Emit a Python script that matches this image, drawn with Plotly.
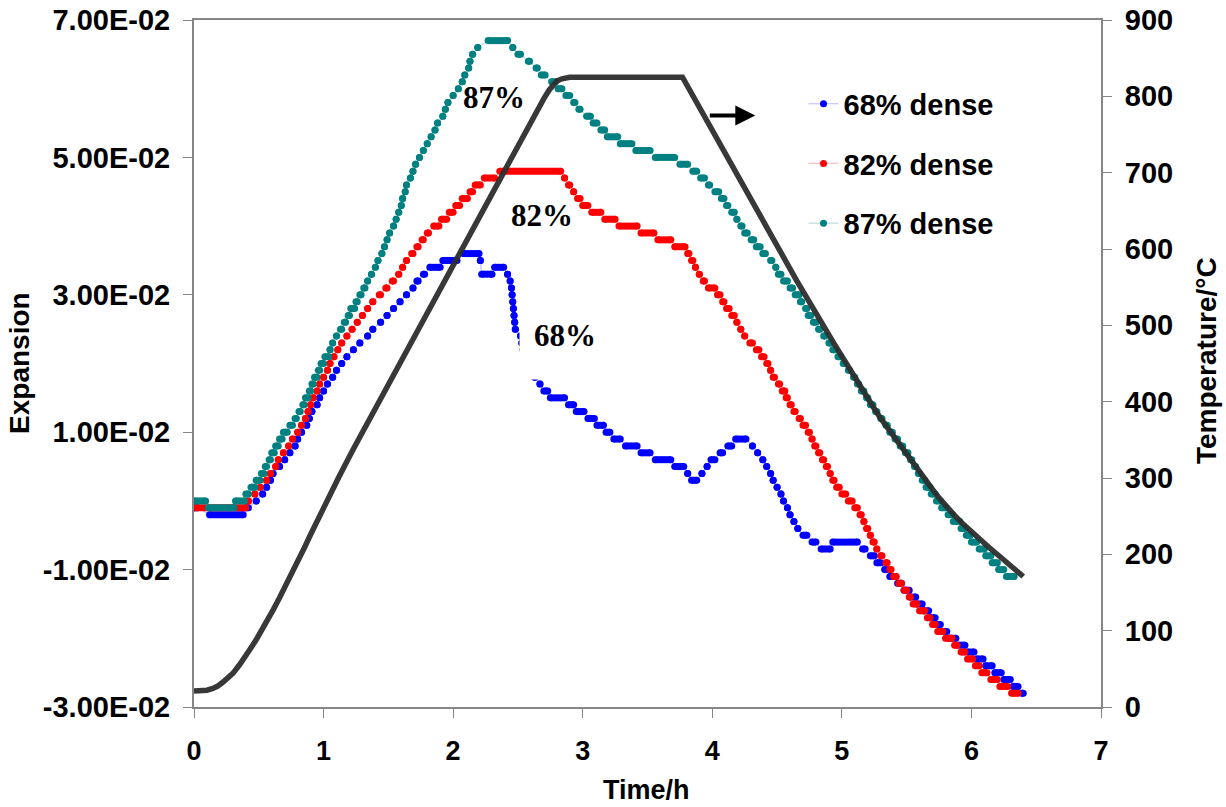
import plotly.graph_objects as go

# ---------------- data ----------------
# Each expansion series is a list of quantised steps: start time, end time, level
E68_T0 = [0.00,0.12,0.40,0.48,0.53,0.56,0.59,0.61,0.66,0.70,0.74,0.78,0.80,0.83,0.87,0.89,0.91,0.95,0.97,1.00,
          1.03,1.07,1.10,1.14,1.18,1.23,1.28,1.34,1.38,1.44,1.49,1.54,1.59,1.64,1.69,1.72,1.77,1.82,1.92,2.08,
          2.21,2.22,2.32,2.42,2.44,2.45,2.455,2.46,2.465,2.47,2.475,2.48,2.52,2.53,2.54,2.56,2.58,2.60,2.63,2.67,
          2.70,2.75,2.89,2.95,3.04,3.11,3.18,3.24,3.33,3.45,3.56,3.71,3.81,3.84,3.92,3.96,3.99,4.06,4.12,4.18,
          4.31,4.35,4.39,4.42,4.45,4.47,4.50,4.53,4.55,4.58,4.60,4.63,4.66,4.70,4.77,4.84,4.93,5.16,5.22,5.27,
          5.33,5.37,5.43,5.48,5.53,5.58,5.63,5.68,5.73,5.77,5.83,5.90,5.97,6.04,6.11,6.18,6.25,6.32,6.39]
E68_T1 = [0.03,0.38,0.42,0.48,0.53,0.56,0.59,0.61,0.66,0.70,0.74,0.78,0.80,0.83,0.87,0.89,0.91,0.95,0.97,1.00,
          1.03,1.07,1.10,1.14,1.18,1.23,1.28,1.34,1.38,1.44,1.49,1.54,1.59,1.64,1.69,1.73,1.78,1.90,2.03,2.20,
          2.21,2.30,2.39,2.42,2.44,2.45,2.455,2.46,2.465,2.47,2.475,2.48,2.52,2.53,2.54,2.56,2.58,2.60,2.63,2.67,
          2.73,2.86,2.93,3.01,3.09,3.16,3.21,3.29,3.42,3.52,3.68,3.78,3.81,3.88,3.92,3.96,4.02,4.08,4.15,4.26,
          4.31,4.35,4.39,4.42,4.45,4.47,4.50,4.53,4.55,4.58,4.60,4.63,4.66,4.73,4.80,4.91,5.12,5.18,5.25,5.30,
          5.35,5.41,5.46,5.52,5.57,5.62,5.67,5.72,5.76,5.81,5.88,5.95,6.02,6.09,6.16,6.23,6.30,6.36,6.40]
E68_LV = [-0.001,-0.002,-0.001,0.000,0.001,0.002,0.003,0.004,0.005,0.006,0.007,0.008,0.009,0.010,0.011,0.012,0.013,0.014,0.015,0.016,
          0.017,0.018,0.019,0.020,0.021,0.022,0.023,0.024,0.025,0.026,0.027,0.028,0.029,0.030,0.031,0.032,0.033,0.034,0.035,0.036,
          0.035,0.033,0.034,0.033,0.032,0.031,0.030,0.029,0.028,0.027,0.026,0.025,0.024,0.023,0.022,0.021,0.020,0.019,0.018,0.017,
          0.016,0.015,0.014,0.013,0.012,0.011,0.010,0.009,0.008,0.007,0.006,0.005,0.004,0.003,0.004,0.005,0.006,0.007,0.008,0.009,
          0.008,0.007,0.006,0.005,0.004,0.003,0.002,0.001,0.000,-0.001,-0.002,-0.003,-0.004,-0.005,-0.006,-0.007,-0.006,-0.007,-0.008,-0.009,
          -0.010,-0.011,-0.012,-0.013,-0.014,-0.015,-0.016,-0.017,-0.018,-0.019,-0.020,-0.021,-0.022,-0.023,-0.024,-0.025,-0.026,-0.027,-0.028]

E82_T0 = [0.00,0.42,0.47,0.51,0.56,0.59,0.63,0.65,0.69,0.73,0.76,0.80,0.83,0.86,0.88,0.90,0.92,0.95,0.97,1.00,
          1.03,1.05,1.08,1.11,1.14,1.18,1.22,1.26,1.30,1.34,1.38,1.43,1.48,1.53,1.58,1.61,1.64,1.68,1.72,1.76,
          1.80,1.85,1.91,1.97,2.02,2.07,2.13,2.17,2.24,2.36,2.86,2.89,2.93,2.96,3.00,3.07,3.17,3.28,3.45,3.58,
          3.71,3.81,3.84,3.87,3.90,3.93,3.97,4.04,4.08,4.11,4.15,4.19,4.22,4.25,4.29,4.34,4.38,4.42,4.45,4.47,
          4.51,4.54,4.57,4.60,4.63,4.67,4.70,4.74,4.77,4.79,4.82,4.85,4.88,4.91,4.93,4.96,5.00,5.05,5.10,5.14,
          5.17,5.19,5.22,5.24,5.27,5.30,5.34,5.37,5.40,5.44,5.48,5.52,5.55,5.60,5.66,5.70,5.74,5.80,5.87,5.92,
          5.97,6.03,6.08,6.15,6.22,6.31]
E82_T1 = [0.40,0.42,0.47,0.51,0.56,0.59,0.63,0.65,0.69,0.73,0.76,0.80,0.83,0.86,0.88,0.90,0.92,0.95,0.97,1.00,
          1.03,1.05,1.08,1.11,1.14,1.18,1.22,1.26,1.30,1.34,1.38,1.44,1.49,1.54,1.58,1.61,1.64,1.69,1.73,1.77,
          1.81,1.89,1.95,2.00,2.05,2.11,2.15,2.21,2.32,2.83,2.86,2.90,2.93,2.98,3.04,3.14,3.25,3.42,3.55,3.68,
          3.79,3.82,3.85,3.87,3.90,3.94,4.02,4.06,4.09,4.13,4.17,4.19,4.22,4.25,4.31,4.36,4.40,4.43,4.45,4.48,
          4.52,4.56,4.58,4.61,4.64,4.68,4.72,4.75,4.77,4.80,4.83,4.86,4.89,4.91,4.94,4.98,5.03,5.08,5.12,5.15,
          5.17,5.20,5.22,5.25,5.27,5.31,5.35,5.38,5.42,5.46,5.50,5.53,5.58,5.64,5.68,5.72,5.78,5.85,5.89,5.95,
          6.01,6.06,6.12,6.20,6.28,6.36]
E82_LV = [-0.001,0.000,0.001,0.002,0.003,0.004,0.005,0.006,0.007,0.008,0.009,0.010,0.011,0.012,0.013,0.014,0.015,0.016,0.017,0.018,
          0.019,0.020,0.021,0.022,0.023,0.024,0.025,0.026,0.027,0.028,0.029,0.030,0.031,0.032,0.033,0.034,0.035,0.036,0.037,0.038,
          0.039,0.040,0.041,0.042,0.043,0.044,0.045,0.046,0.047,0.048,0.047,0.046,0.045,0.044,0.043,0.042,0.041,0.040,0.039,0.038,
          0.037,0.036,0.035,0.034,0.033,0.032,0.031,0.030,0.029,0.028,0.027,0.026,0.025,0.024,0.023,0.022,0.021,0.020,0.019,0.018,
          0.017,0.016,0.015,0.014,0.013,0.012,0.011,0.010,0.009,0.008,0.007,0.006,0.005,0.004,0.003,0.002,0.001,0.000,-0.001,-0.002,
          -0.003,-0.004,-0.005,-0.006,-0.007,-0.008,-0.009,-0.010,-0.011,-0.012,-0.013,-0.014,-0.015,-0.016,-0.017,-0.018,-0.019,-0.020,-0.021,-0.022,
          -0.023,-0.024,-0.025,-0.026,-0.027,-0.028]

E87_T0 = [0.00,0.11,0.32,0.40,0.44,0.48,0.52,0.55,0.58,0.60,0.63,0.66,0.69,0.74,0.78,0.81,0.84,0.86,0.89,0.91,
          0.93,0.96,0.98,1.01,1.05,1.07,1.10,1.13,1.16,1.19,1.21,1.25,1.28,1.31,1.34,1.37,1.40,1.42,1.45,1.47,
          1.49,1.51,1.54,1.56,1.58,1.60,1.61,1.63,1.64,1.67,1.69,1.71,1.74,1.77,1.80,1.83,1.86,1.88,1.92,1.94,
          1.96,2.00,2.04,2.07,2.09,2.12,2.13,2.15,2.19,2.27,2.46,2.50,2.58,2.64,2.68,2.76,2.81,2.87,2.93,2.97,
          3.03,3.08,3.14,3.19,3.29,3.41,3.56,3.75,3.85,3.91,3.97,4.02,4.07,4.11,4.15,4.19,4.22,4.25,4.30,4.34,
          4.39,4.45,4.49,4.51,4.55,4.60,4.64,4.68,4.72,4.74,4.78,4.82,4.86,4.90,4.93,4.97,5.01,5.05,5.09,5.12,
          5.15,5.19,5.22,5.26,5.30,5.34,5.37,5.41,5.45,5.49,5.53,5.56,5.59,5.62,5.65,5.69,5.73,5.77,5.82,5.86,
          5.92,5.96,6.00,6.06,6.11,6.16,6.21,6.27]
E87_T1 = [0.09,0.31,0.39,0.42,0.47,0.51,0.54,0.56,0.59,0.62,0.65,0.68,0.72,0.76,0.79,0.82,0.85,0.88,0.90,0.92,
          0.95,0.97,1.00,1.04,1.05,1.07,1.10,1.14,1.17,1.20,1.24,1.26,1.29,1.32,1.34,1.37,1.40,1.42,1.45,1.47,
          1.49,1.51,1.54,1.56,1.58,1.60,1.61,1.63,1.64,1.67,1.69,1.71,1.74,1.77,1.80,1.83,1.86,1.88,1.92,1.94,
          1.96,2.00,2.04,2.07,2.09,2.12,2.13,2.15,2.19,2.42,2.46,2.52,2.59,2.65,2.71,2.79,2.84,2.90,2.94,2.98,
          3.06,3.11,3.17,3.27,3.38,3.52,3.71,3.81,3.88,3.94,3.98,4.05,4.09,4.12,4.17,4.19,4.23,4.27,4.32,4.37,
          4.41,4.46,4.49,4.53,4.58,4.62,4.67,4.69,4.73,4.76,4.80,4.83,4.87,4.91,4.95,4.99,5.02,5.06,5.10,5.13,
          5.17,5.20,5.24,5.27,5.31,5.35,5.39,5.43,5.47,5.51,5.54,5.57,5.60,5.64,5.68,5.72,5.76,5.80,5.85,5.91,
          5.95,5.99,6.04,6.10,6.15,6.20,6.25,6.33]
E87_LV = [0.000,-0.001,0.000,0.001,0.002,0.003,0.004,0.005,0.006,0.007,0.008,0.009,0.010,0.011,0.012,0.013,0.014,0.015,0.016,0.017,
          0.018,0.019,0.020,0.021,0.022,0.023,0.024,0.025,0.026,0.027,0.028,0.029,0.030,0.031,0.032,0.033,0.034,0.035,0.036,0.037,
          0.038,0.039,0.040,0.041,0.042,0.043,0.044,0.045,0.046,0.047,0.048,0.049,0.050,0.051,0.052,0.053,0.054,0.055,0.056,0.057,
          0.058,0.059,0.060,0.061,0.062,0.063,0.064,0.065,0.066,0.067,0.066,0.065,0.064,0.063,0.062,0.061,0.060,0.059,0.058,0.057,
          0.056,0.055,0.054,0.053,0.052,0.051,0.050,0.049,0.048,0.047,0.046,0.045,0.044,0.043,0.042,0.041,0.040,0.039,0.038,0.037,
          0.036,0.035,0.034,0.033,0.032,0.031,0.030,0.029,0.028,0.027,0.026,0.025,0.024,0.023,0.022,0.021,0.020,0.019,0.018,0.017,
          0.016,0.015,0.014,0.013,0.012,0.011,0.010,0.009,0.008,0.007,0.006,0.005,0.004,0.003,0.002,0.001,0.000,-0.001,-0.002,-0.003,
          -0.004,-0.005,-0.006,-0.007,-0.008,-0.009,-0.010,-0.011]

TEMP_T = [0.00,0.05,0.10,0.14,0.18,0.22,0.26,0.30,0.35,0.39,0.43,0.48,0.52,0.57,0.61,0.66,0.70,0.75,0.79,0.85,
          0.90,0.95,1.00,1.12,1.23,1.38,1.50,1.69,1.82,1.93,2.10,2.36,2.59,2.65,2.70,2.74,2.77,2.80,2.84,2.90,
          3.77,4.30,4.65,4.94,5.00,5.07,5.13,5.19,5.25,5.30,5.35,5.40,5.45,5.50,5.58,5.64,5.70,5.75,5.81,5.87,
          5.94,6.00,6.07,6.13,6.20,6.25,6.30,6.35,6.40]
TEMP_C = [21,21,22,24,27,32,37,44,55,64,75,88,99,114,127,143,156,173,187,208,
          226,244,262,302,338,385,422,482,523,558,611,693,765,782,797,808,815,820,823,825,
          825,665,559,476,459,440,423,406,391,378,366,354,342,330,311,298,285,274,262,251,
          239,229,219,210,200,192,185,178,171]

SERIES_NAMES = ["68% dense", "82% dense", "87% dense"]
SERIES_COLORS = ["#0000FF", "#FF0000", "#008080"]
SERIES_PALE = ["rgba(120,120,255,0.5)", "rgba(255,150,150,0.6)", "rgba(120,190,190,0.5)"]

Y_TICKVALS = [-0.03, -0.01, 0.01, 0.03, 0.05, 0.07]
Y_TICKTEXT = ["-3.00E-02", "-1.00E-02", "1.00E-02", "3.00E-02", "5.00E-02", "7.00E-02"]

SANS = "Liberation Sans, Arial, sans-serif"
SERIF = "Liberation Serif, Times New Roman, serif"
AXIS_GREY = "#868686"

fig = go.Figure()

series = [(E68_T0, E68_T1, E68_LV), (E82_T0, E82_T1, E82_LV), (E87_T0, E87_T1, E87_LV)]
for (t0, t1, lv), name, col, pale in zip(series, SERIES_NAMES, SERIES_COLORS, SERIES_PALE):
    px, py, sx, sy = [], [], [], []
    for a, b, v in zip(t0, t1, lv):
        px += [a, b]
        py += [v, v]
        sx += [a, b, None]
        sy += [v, v, None]
    fig.add_trace(go.Scatter(x=px, y=py, mode="lines+markers", name=name, legendgroup=name,
                             line=dict(color=pale, width=1.2),
                             marker=dict(color=col, size=7), hoverinfo="skip"))
    fig.add_trace(go.Scatter(x=sx, y=sy, mode="lines", showlegend=False, legendgroup=name,
                             line=dict(color=col, width=7), hoverinfo="skip"))

fig.add_trace(go.Scatter(x=TEMP_T, y=TEMP_C, yaxis="y2", mode="lines", showlegend=False,
                         line=dict(color="rgba(45,45,45,0.95)", width=5.5), hoverinfo="skip"))

annotations = [
    dict(text="87%", x=2.317, y=0.0587, xref="x", yref="y", showarrow=False,
         xanchor="center", yanchor="middle",
         font=dict(family=SERIF, size=31, color="black", weight="bold")),
    dict(text="82%", x=2.687, y=0.0416, xref="x", yref="y", showarrow=False,
         xanchor="center", yanchor="middle",
         font=dict(family=SERIF, size=31, color="black", weight="bold")),
    dict(text="68%", x=2.86, y=0.0222, xref="x", yref="y", showarrow=False,
         xanchor="center", yanchor="middle",
         width=90, height=61, valign="top", align="center", bgcolor="white", borderpad=0,
         font=dict(family=SERIF, size=31, color="black", weight="bold")),
    dict(text="Expansion", x=-0.193, y=0.5007, xref="paper", yref="paper", showarrow=False,
         xanchor="center", yanchor="middle",
         textangle=-90, font=dict(family=SANS, size=28, color="black", weight="bold")),
    dict(text="Time/h", x=0.4994, y=-0.1208, xref="paper", yref="paper", showarrow=False,
         xanchor="center", yanchor="middle",
         font=dict(family=SANS, size=27, color="black", weight="bold")),
    dict(text="Temperature/°C", x=1.1158, y=0.5036, xref="paper", yref="paper", showarrow=False,
         xanchor="center", yanchor="middle",
         textangle=-90, font=dict(family=SANS, size=28, color="black", weight="bold")),
    dict(text="", x=4.332, y=775, xref="x", yref="y2", ax=-47, ay=0, axref="pixel", ayref="pixel",
         showarrow=True, arrowhead=2, arrowsize=1, arrowwidth=4, arrowcolor="black", standoff=0),
]

fig.update_layout(
    width=1226, height=807,
    margin=dict(l=194, r=125, t=20, b=100, autoexpand=False),
    paper_bgcolor="white", plot_bgcolor="white",
    font=dict(family=SANS, size=28, color="black", weight="bold"),
    showlegend=True,
    legend=dict(x=0.672, y=0.915, xanchor="left", yanchor="top", bgcolor="rgba(0,0,0,0)",
                traceorder="grouped", tracegroupgap=19, itemwidth=30,
                font=dict(family=SANS, size=29, color="black", weight="bold")),
    xaxis=dict(range=[0, 7], tick0=0, dtick=1, ticks="outside", ticklen=9, tickwidth=1,
               tickcolor=AXIS_GREY, showline=True, linecolor=AXIS_GREY, linewidth=2, mirror=True,
               showgrid=False, zeroline=False, ticklabelstandoff=10,
               tickfont=dict(family=SANS, size=27, color="black", weight="bold")),
    yaxis=dict(range=[-0.03, 0.07], tickvals=Y_TICKVALS, ticktext=Y_TICKTEXT, ticks="outside",
               ticklen=9, tickwidth=1, tickcolor=AXIS_GREY, showline=True, linecolor=AXIS_GREY,
               linewidth=2, mirror=True, showgrid=False, zeroline=False, ticklabelstandoff=7,
               tickfont=dict(family=SANS, size=29, color="black", weight="bold")),
    yaxis2=dict(range=[0, 900], tick0=0, dtick=100, overlaying="y", side="right", ticks="outside",
                ticklen=9, tickwidth=1, tickcolor=AXIS_GREY, showline=True, linecolor=AXIS_GREY,
                linewidth=2, showgrid=False, zeroline=False, ticklabelstandoff=7,
                tickfont=dict(family=SANS, size=29, color="black", weight="bold")),
    annotations=annotations,
)

fig.write_html("out.html")
